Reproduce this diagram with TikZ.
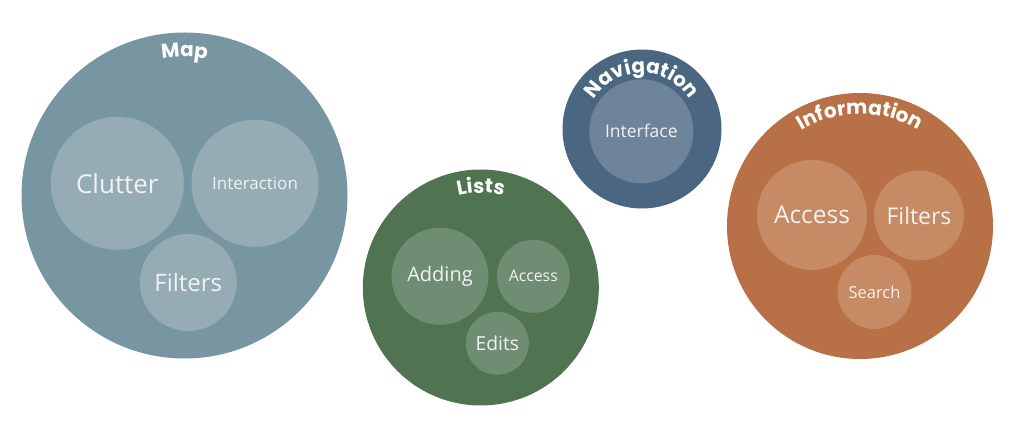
\documentclass[tikz,border=0pt]{standalone}
\usepackage{fontspec}
\setmainfont{Open Sans}
\newfontfamily\titlefont{Poppins}
\usetikzlibrary{decorations.text}
\definecolor{mapdark}{HTML}{7896A1}
\definecolor{maplight}{HTML}{95ACB5}
\definecolor{listdark}{HTML}{507352}
\definecolor{listlight}{HTML}{6F8D72}
\definecolor{navdark}{HTML}{4A6680}
\definecolor{navlight}{HTML}{6D849A}
\definecolor{infodark}{HTML}{B87046}
\definecolor{infolight}{HTML}{C68A64}
\tikzset{
	bubble/.style={
		circle, 
		inner sep=0pt, 
		minimum size=#1},
	sub/.style={
		circle, 
		inner sep=0pt, 
		minimum size=#1, 
		text=white!95!black},
	titlearc/.style={
		decorate, 
		decoration={text along path, text align=center, text color=white, 
			text={|\titlefont\bfseries\fontsize{20}{24}\selectfont|#1}}},
}
\newcommand{\fs}[1]{\fontsize{#1}{#1}\selectfont}

\begin{document}
\begin{tikzpicture}
			[x=1pt, y=1pt]
			\useasboundingbox (0,0) rectangle (1024,436);
			% Map
	  		\node[bubble=326, fill=mapdark] (map) at (184.5,240.5) {};
			\node[sub=133, fill=maplight] (clutter) at (117.3,252.7) {\fs{26}Clutter};
			\node[sub=127, fill=maplight] (interaction) at (255,252.7) {\fs{17}Interaction};
			\node[sub=97, fill=maplight] (mapfilters) at (188.3,153.5) {\fs{24}Filters};
			\path[titlearc=Map] ([xshift=-138.5pt]map.center) arc[start angle=180, end angle=0, radius=138.5];
			% Lists
			\node[bubble=236, fill=listdark] (lists) at (480.8,148.5) {};
			\node[sub=97, fill=listlight] (adding) at (440,159.7) {\fs{20}Adding};
			\node[sub=73, fill=listlight] (listaccess) at (533.3,159.7) {\fs{15.8}Access};
			\node[sub=63, fill=listlight] (edits) at (497.3,92.7) {\fs{19.3}Edits};
			\path[titlearc=Lists] ([xshift=-94.5pt]lists.center) arc[start angle=180, end angle=0, radius=94.5];
			% Navigation
			\node[bubble=159, fill=navdark] (nav) at (642,307) {};
			\node[sub=104, fill=navlight] (interface) at (641.3,304.7) {\fs{17.5}Interface};
			\path[titlearc=Navigation] ([xshift=-56pt]nav.center) arc[start angle=180, end angle=0, radius=56];
			% Information
			\node[bubble=266, fill=infodark] (info) at (860,210) {};
			\node[sub=110, fill=infolight] (infoaccess) at (812,221) {\fs{24.5}Access};
			\node[sub=90, fill=infolight] (infofilters) at (919,220.5) {\fs{23}Filters};
			\node[sub=74, fill=infolight] (search) at (874.5,144) {\fs{16.5}Search};
			\path[titlearc=Information] ([xshift=-112pt]info.center) arc[start angle=180, end angle=0, radius=112];
		\end{tikzpicture}
\end{document}
